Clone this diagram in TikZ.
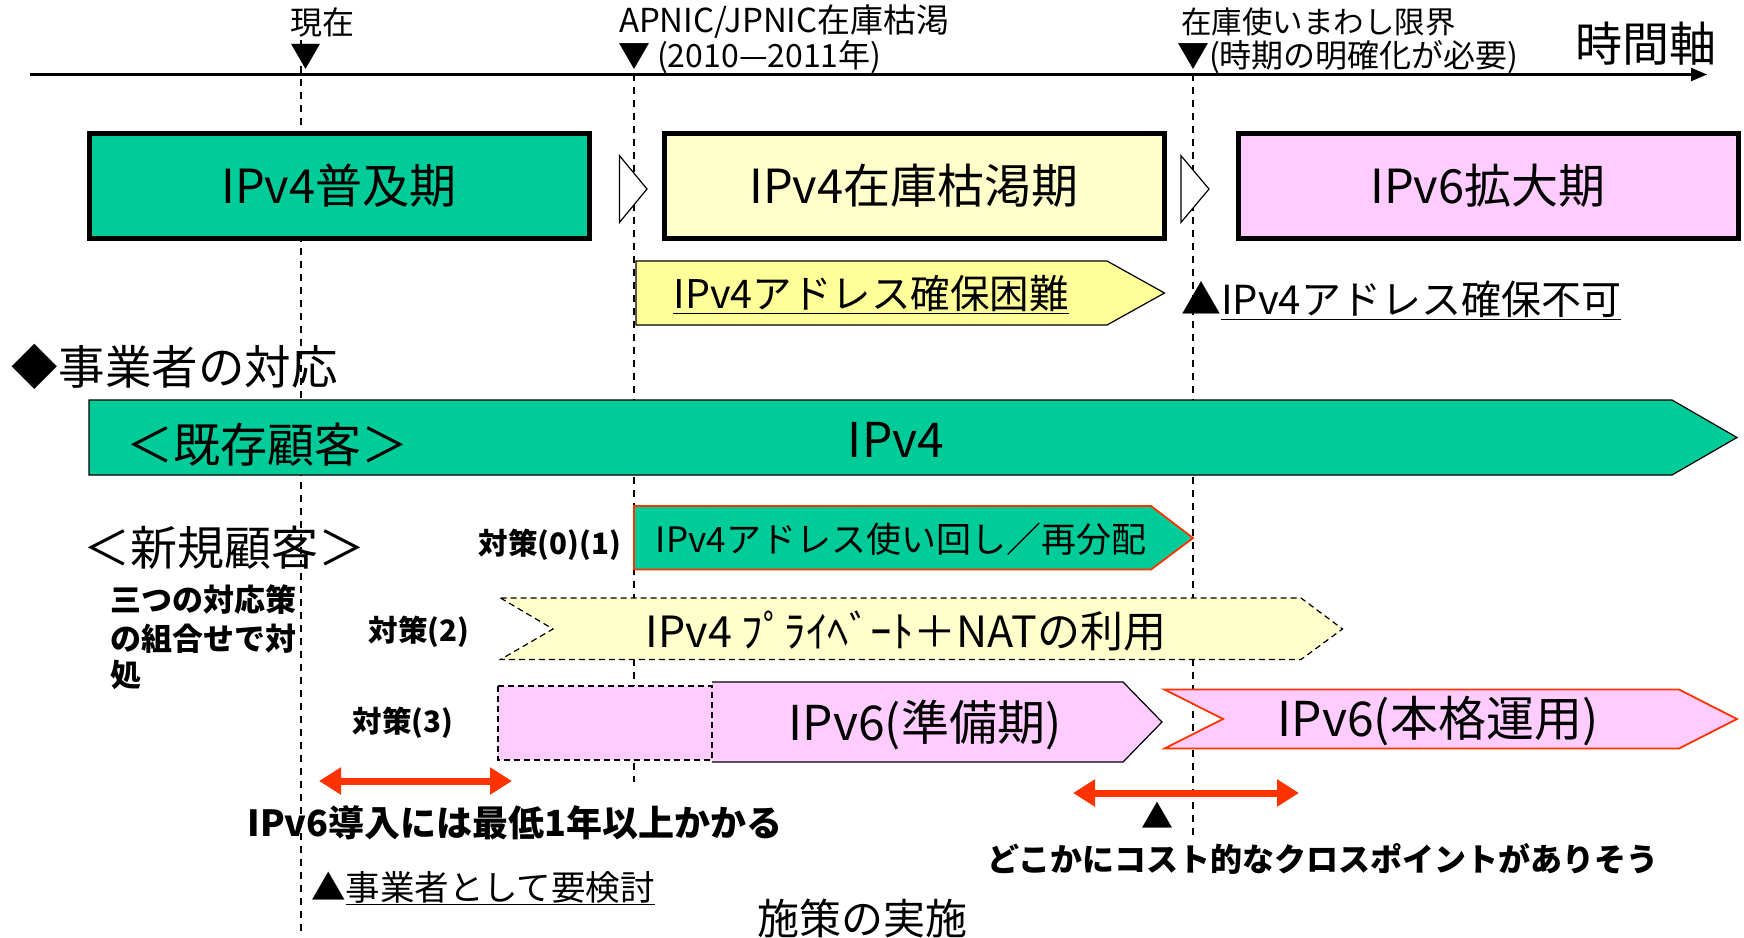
\documentclass[tikz,border=0pt]{standalone}
\usepackage{fontspec}
\setmainfont{Noto Sans CJK JP}
\usetikzlibrary{arrows.meta}
\definecolor{grn}{HTML}{00CC99}
\definecolor{lyel}{HTML}{FFFFCC}
\definecolor{yel}{HTML}{FFFF99}
\definecolor{pnk}{HTML}{FFCCFF}
\definecolor{rd}{HTML}{FF3300}
\newcommand{\fsz}[1]{\fontsize{#1}{#1}\selectfont}
\begin{document}
\begin{tikzpicture}[x=1pt,y=-1pt,
  lbl/.style={inner sep=0pt,outer sep=0pt},
  dline/.style={dash pattern=on 7pt off 6pt,line width=1.2pt},
  period/.style={draw=black,line width=5pt,minimum width=500pt,minimum height=105pt,inner sep=0pt,font=\fsz{47}},
  thinb/.style={draw=black,line width=1.2pt},
  redb/.style={draw=rd,line width=1.8pt},
  dashb/.style={draw=black,line width=1.2pt,dash pattern=on 6pt off 4pt},
  redarr/.style={rd,line width=7pt,{Triangle[length=22pt,width=26pt]}-{Triangle[length=22pt,width=26pt]}}
]
\useasboundingbox (0,0) rectangle (1744,937);
% dashed guide lines
\coordinate (d1t) at (301,40); \coordinate (d1b) at (301,937);
\coordinate (d2t) at (634,74); \coordinate (d2b) at (634,782);
\coordinate (d3t) at (1193,74); \coordinate (d3b) at (1193,840);
\draw[dline] (d1t) -- (d1b);
\draw[dline] (d2t) -- (d2b);
\draw[dline] (d3t) -- (d3b);
% timeline
\coordinate (tl0) at (30,74.5); \coordinate (tl1) at (1707,74.5);
\draw[line width=2.2pt,-{Triangle[length=16pt,width=13pt]}] (tl0) -- (tl1);
\node[lbl,font=\fsz{32}] (now) at (322,22) {現在};
\node[lbl,font=\fsz{31}] (m1) at (306,57) {▼};
\node[lbl,font=\fsz{33},anchor=west] (apn) at (619,22) {APNIC/JPNIC在庫枯渇};
\node[lbl,font=\fsz{32},anchor=west] (apn2) at (618,57) {▼ (2010—2011年)};
\node[lbl,font=\fsz{30.5},anchor=west] (lim) at (1181,22) {在庫使いまわし限界};
\node[lbl,font=\fsz{32},anchor=west] (lim2) at (1177,57) {▼(時期の明確化が必要)};
\node[lbl,font=\fsz{47}] (axis) at (1646,44) {時間軸};
% period boxes
\node[period,fill=grn] (p1) at (339,186) {IPv4普及期};
\node[period,fill=lyel] (p2) at (914,186) {IPv4在庫枯渇期};
\node[period,fill=pnk] (p3) at (1488,186) {IPv6拡大期};
\draw[thinb,fill=white] (619.5,155.7) -- (647,189) -- (619.5,222.4) -- cycle;
\draw[thinb,fill=white] (1181,155.7) -- (1209,189) -- (1181,222.4) -- cycle;
% address difficulty
\draw[thinb,fill=yel] (636,261) -- (1107,261) -- (1164.5,293) -- (1107,325) -- (636,325) -- cycle;
\node[lbl,font=\fsz{39.5}] (diff) at (871,295) {\underline{IPv4アドレス確保困難}};
\node[lbl,font=\fsz{40},anchor=west] (imp) at (1181,300) {▲\underline{IPv4アドレス確保不可}};
% operators
\node[lbl,font=\fsz{46.5},anchor=west] (ops) at (12,367) {◆事業者の対応};
\draw[thinb,fill=grn] (89,400) -- (1672,400) -- (1737,437.5) -- (1672,475) -- (89,475) -- cycle;
\node[lbl,font=\fsz{47}] (exist) at (267,445) {＜既存顧客＞};
\node[lbl,font=\fsz{48}] (v4) at (896,440) {IPv4};
\node[lbl,font=\fsz{47}] (new) at (224,548) {＜新規顧客＞};
\node[lbl,font=\bfseries\fsz{31},anchor=west] (c1) at (110,600) {三つの対応策};
\node[lbl,font=\bfseries\fsz{31},anchor=west] (c2) at (110,639) {の組合せで対};
\node[lbl,font=\bfseries\fsz{31},anchor=west] (c3) at (110,675) {処};
% measure 0/1
\node[lbl,font=\bfseries\fsz{29.5},anchor=east] (t01) at (621,545) {対策(0)(1)};
\draw[redb,fill=grn] (634,506) -- (1151,506) -- (1193,538) -- (1151,569.5) -- (634,569.5) -- cycle;
\node[lbl,font=\fsz{35}] (reuse) at (901,539) {IPv4アドレス使い回し／再分配};
% measure 2
\node[lbl,font=\bfseries\fsz{29.5}] (t2) at (419,632) {対策(2)};
\draw[dashb,fill=lyel] (500.5,598) -- (1301,598) -- (1342.5,629) -- (1301,659.5) -- (500.5,659.5) -- (553,629) -- cycle;
\node[lbl,font=\fsz{43}] (nat) at (906,631) {IPv4 ﾌﾟﾗｲﾍﾞｰﾄ＋NATの利用};
% measure 3
\node[lbl,font=\bfseries\fsz{29.5}] (t3) at (403,723) {対策(3)};
\fill[pnk] (712,682) -- (1123,682) -- (1162,722) -- (1123,762) -- (712,762) -- cycle;
\draw[thinb] (712,682) -- (1123,682) -- (1162,722) -- (1123,762) -- (712,762);
\draw[dashb,fill=pnk] (498,686) rectangle (712,760);
\node[lbl,font=\fsz{48}] (prep) at (925,725) {IPv6(準備期)};
\draw[redb,fill=pnk] (1164.5,689.5) -- (1679,689.5) -- (1737,719) -- (1679,748.5) -- (1164.5,748.5) -- (1223,719) -- cycle;
\node[lbl,font=\fsz{48}] (full) at (1438,721) {IPv6(本格運用)};
% red arrows and notes
\coordinate (ra1) at (319,781); \coordinate (ra2) at (512,781);
\draw[redarr] (ra1) -- (ra2);
\coordinate (rb1) at (1073,793); \coordinate (rb2) at (1299,793);
\draw[redarr] (rb1) -- (rb2);
\node[lbl,font=\bfseries\fsz{36}] (year) at (515,823) {IPv6導入には最低1年以上かかる};
\node[lbl,font=\fsz{32}] (tri) at (1157,815) {▲};
\node[lbl,font=\bfseries\fsz{32}] (cross) at (1323,859) {どこかにコスト的なクロスポイントがありそう};
\node[lbl,font=\fsz{34.5},anchor=west] (exam) at (311,888) {▲\underline{事業者として要検討}};
\node[lbl,font=\fsz{42}] (impl) at (862,918) {施策の実施};
\end{tikzpicture}
\end{document}
